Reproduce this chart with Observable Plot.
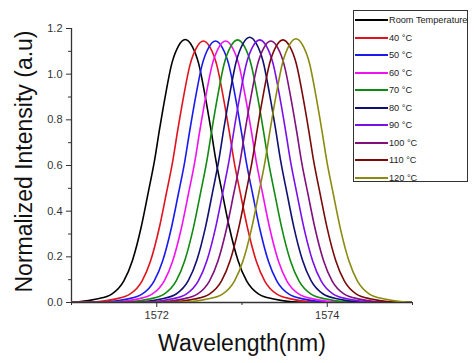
<!DOCTYPE html>
<html>
<head>
<meta charset="utf-8">
<script src="https://cdn.jsdelivr.net/npm/d3@7"></script>
<script src="https://cdn.jsdelivr.net/npm/@observablehq/plot@0.6"></script>
<style>
  html, body { margin: 0; padding: 0; background: #fff; }
  #wrap { position: relative; width: 474px; height: 363px; font-family: "Liberation Sans", Arial, sans-serif; }
  #legend { position: absolute; left: 353px; top: 10px; width: 115px; height: 172px; border: 1px solid #333; background: #fff; box-sizing: border-box; }
  .row { position: absolute; left: 1px; height: 14px; display: flex; align-items: center; white-space: nowrap; }
  .swatch { width: 33px; height: 2px; margin-right: 1px; }
  .lab { font-size: 9.2px; color: #222; }
</style>
</head>
<body>
<div id="wrap"></div>
<script>
// ---- data ----
const seriesNames = ["Room Temperature", "40 °C", "50 °C", "60 °C", "70 °C", "80 °C", "90 °C", "100 °C", "110 °C", "120 °C"];
const seriesColors = ["#000000", "#e0141c", "#1a1aee", "#f012f0", "#108a10", "#101070", "#7a10e8", "#80107e", "#7a0a0a", "#8a8a10"];
const peakCenters = [1572.334, 1572.547, 1572.689, 1572.807, 1572.948, 1573.090, 1573.208, 1573.338, 1573.480, 1573.633];
const peakHeights = [1.152, 1.145, 1.145, 1.145, 1.150, 1.162, 1.150, 1.145, 1.150, 1.155];
// line shape read from the room-temperature peak: distance from the centre (nm) and relative intensity
const profileOffset = [0, 0.08, 0.157, 0.236, 0.303, 0.36, 0.437, 0.517, 0.62, 0.72, 0.862, 1.039, 1.25, 1.5, 3.0];
const profileValue  = [1, 0.975, 0.909, 0.781, 0.655, 0.54, 0.413, 0.286, 0.159, 0.082, 0.032, 0.013, 0.003, 0, 0];
const xDomain = [1571, 1575];
const xMajorTicks = [1572, 1574];
const xMinorTicks = [1571, 1573, 1575];
const yMajorTicks = [0, 0.2, 0.4, 0.6, 0.8, 1.0, 1.2];
const yMinorTicks = [0.1, 0.3, 0.5, 0.7, 0.9, 1.1];
const xLabel = "Wavelength(nm)";
const yLabel = "Normalized Intensity (a.u)";

// ---- build the table ----
const rows = [];
seriesNames.forEach((name, i) => {
  const pts = [];
  for (let k = profileOffset.length - 1; k > 0; k--) pts.push([-profileOffset[k], profileValue[k]]);
  for (let k = 0; k < profileOffset.length; k++) pts.push([profileOffset[k], profileValue[k]]);
  for (const [o, v] of pts) rows.push({series: name, color: seriesColors[i], x: peakCenters[i] + o, y: peakHeights[i] * v});
});

const chart = Plot.plot({
  width: 474,
  height: 363,
  marginLeft: 71,
  marginRight: 62,
  marginTop: 28,
  marginBottom: 61,
  style: {fontFamily: "'Liberation Sans', Arial, sans-serif", background: "#fff"},
  x: {domain: xDomain},
  y: {domain: [0, 1.2]},
  marks: [
    Plot.axisY({ticks: yMajorTicks, tickSize: 5, tickPadding: 4, tickFormat: d3.format(".1f"), fontSize: 11, color: "#333", label: null}),
    Plot.axisY({ticks: yMinorTicks, tickSize: 3, tickFormat: () => "", color: "#333", label: null}),
    Plot.axisX({ticks: xMajorTicks, tickSize: 5, tickPadding: 4, tickFormat: d => String(d), fontSize: 11, color: "#333", label: null}),
    Plot.axisX({ticks: xMinorTicks, tickSize: 3, tickFormat: () => "", color: "#333", label: null}),
    Plot.ruleY([0], {stroke: "#333", strokeWidth: 1.3}),
    Plot.ruleX([xDomain[0]], {stroke: "#333", strokeWidth: 1.3}),
    Plot.line(rows, {x: "x", y: "y", z: "series", stroke: "color", strokeWidth: 1.6, curve: "monotone-x", clip: true}),
    Plot.text([xLabel], {frameAnchor: "bottom", textAnchor: "middle", lineAnchor: "middle", dy: 41, fontSize: 23, fill: "#111"}),
    Plot.text([yLabel], {frameAnchor: "left", textAnchor: "middle", lineAnchor: "middle", rotate: -90, dx: -47, dy: -4, fontSize: 23, fill: "#111"})
  ]
});

const wrap = document.getElementById("wrap");
wrap.appendChild(chart);

// legend
const legend = document.createElement("div");
legend.id = "legend";
seriesNames.forEach((name, i) => {
  const row = document.createElement("div");
  row.className = "row";
  row.style.top = (2 + 17.5 * i) + "px";
  const sw = document.createElement("div");
  sw.className = "swatch";
  sw.style.background = seriesColors[i];
  const lab = document.createElement("span");
  lab.className = "lab";
  lab.textContent = name;
  row.appendChild(sw);
  row.appendChild(lab);
  legend.appendChild(row);
});
wrap.appendChild(legend);
</script>
</body>
</html>
